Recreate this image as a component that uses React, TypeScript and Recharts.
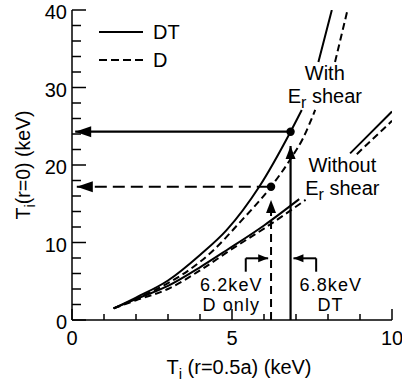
import React from 'react';
import {
  ComposedChart,
  Line,
  XAxis,
  YAxis,
  ReferenceLine,
  ReferenceDot,
  Legend,
} from 'recharts';

const FONT = '"Liberation Sans", Arial, Helvetica, sans-serif';
const INK = '#000';

// ---- curves: Ti(r=0) vs Ti(r=0.5a); null marks a break (label gap) ----
const shearDTx = [1.3, 2.0, 3.0, 4.0, 4.83, 5.85, 6.83, 7.18, 7.45, 7.7, 8.12];
const shearDTy = [1.5, 2.9, 5.1, 8.4, 11.6, 17.2, 24.3, 27.1, null, 33.3, 40.0];

const shearDx = [1.3, 2.0, 3.0, 4.0, 4.42, 5.2, 6.22, 6.85, 7.2, 7.6, 7.9, 8.22, 8.61];
const shearDy = [1.5, 2.75, 4.75, 7.5, 9.0, 12.4, 17.2, 20.9, 23.3, 27.1, null, 33.3, 40.0];

const noShearDTx = [1.3, 2.0, 3.0, 4.0, 4.83, 6.0, 7.1, 7.9, 8.69, 9.2, 10.0];
const noShearDTy = [1.5, 2.7, 4.4, 6.8, 9.0, 12.2, 15.6, null, 21.5, 23.6, 26.9];

const noShearDx = [1.3, 2.0, 3.0, 4.0, 4.94, 6.0, 7.3, 8.1, 8.9, 10.0];
const noShearDy = [1.5, 2.55, 4.0, 6.4, 9.0, 11.8, 15.5, null, 21.4, 25.7];

// ---- operating points: [DT, D] ----
const opEdge = [6.83, 6.22];
const opCore = [24.3, 17.2];
const hArrowTip = [0.1, 0.15];
const vArrowTip = [22.45, 15.5];

// ---- brackets ----
const bracketY = [6.23, 7.96];
const bracketDx = [5.43, 6.13];
const bracketDTx = [7.63, 6.92];

// ---- ticks ----
const xTicks = [0, 1, 2, 3, 4, 5, 6, 7, 8, 9, 10];
const yTicks = [0, 2, 4, 6, 8, 10, 12, 14, 16, 18, 20, 22, 24, 26, 28, 30, 32, 34, 36, 38, 40];
const xLabelTicks = [0, 5, 10];
const yLabelTicks = [0, 10, 20, 30, 40];

const series = (xs: number[], ys: (number | null)[]) => xs.map((x, i) => ({ x, y: ys[i] }));

const LeftTick = (p: any) => {
  const v = p.payload.value;
  const major = yLabelTicks.includes(v);
  return (
    <g>
      <line x1={p.x} x2={p.x + (major ? 14 : 9)} y1={p.y} y2={p.y} stroke={INK} strokeWidth={1.5} />
      {major && (
        <text x={p.x - 5} y={p.y} dy={9} textAnchor="end" fontSize={20} fontFamily={FONT} fill={INK}>
          {v}
        </text>
      )}
    </g>
  );
};
const RightTick = (p: any) => {
  const major = yLabelTicks.includes(p.payload.value);
  return <line x1={p.x} x2={p.x - (major ? 14 : 9)} y1={p.y} y2={p.y} stroke={INK} strokeWidth={1.5} />;
};
const BottomTick = (p: any) => {
  const v = p.payload.value;
  const major = xLabelTicks.includes(v);
  return (
    <g>
      <line x1={p.x} x2={p.x} y1={p.y} y2={p.y - (major ? 11 : 6)} stroke={INK} strokeWidth={1.5} />
      {major && (
        <text x={p.x} y={p.y} dy={25} textAnchor="middle" fontSize={20} fontFamily={FONT} fill={INK}>
          {v}
        </text>
      )}
    </g>
  );
};
const TopTick = (p: any) => {
  const major = xLabelTicks.includes(p.payload.value);
  return <line x1={p.x} x2={p.x} y1={p.y} y2={p.y + (major ? 11 : 6)} stroke={INK} strokeWidth={1.5} />;
};

const YLabel = (p: any) => {
  const vb = p.viewBox;
  const cx = 30;
  const cy = vb.y + vb.height / 2;
  return (
    <text x={cx} y={cy} transform={`rotate(-90 ${cx} ${cy})`} textAnchor="middle" fontSize={19.5} fontFamily={FONT} fill={INK}>
      <tspan>T</tspan>
      <tspan dy={5} fontSize={15}>i</tspan>
      <tspan dy={-5}>(r=0) (keV)</tspan>
    </text>
  );
};
const XLabel = (p: any) => {
  const vb = p.viewBox;
  const cx = vb.x + vb.width / 2 + 7;
  return (
    <text x={cx} y={374} textAnchor="middle" fontSize={20} fontFamily={FONT} fill={INK}>
      <tspan>T</tspan>
      <tspan dy={5} fontSize={15}>i</tspan>
      <tspan dy={-5}> (r=0.5a) (keV)</tspan>
    </text>
  );
};

const arrowShape = (dir: 'left' | 'right' | 'up', len: number, half: number) => (p: any) => {
  const { cx, cy } = p;
  let pts = '';
  if (dir === 'left') pts = `${cx},${cy} ${cx + len},${cy - half} ${cx + len},${cy + half}`;
  if (dir === 'right') pts = `${cx},${cy} ${cx - len},${cy - half} ${cx - len},${cy + half}`;
  if (dir === 'up') pts = `${cx},${cy} ${cx - half},${cy + len} ${cx + half},${cy + len}`;
  return <polygon points={pts} fill={INK} stroke="none" />;
};

const textShape = (content: React.ReactNode, size = 20, spacing = 0) => (p: any) => (
  <text x={p.cx} y={p.cy} textAnchor="middle" fontSize={size} letterSpacing={spacing} fontFamily={FONT} fill={INK}>
    {content}
  </text>
);
const erShear = (
  <>
    <tspan>E</tspan>
    <tspan dy={5} fontSize={16}>r</tspan>
    <tspan dy={-5}> shear</tspan>
  </>
);

const notes = [
  { key: 'with', x: 7.9, y: 30.97, content: 'With' },
  { key: 'with-er', x: 7.9, y: 27.96, content: erShear },
  { key: 'without', x: 8.45, y: 19.1, content: 'Without' },
  { key: 'without-er', x: 8.45, y: 16.1, content: erShear },
];
const bracketNotes = [
  { key: 'd62', x: 4.98, y: 3.74, content: '6.2keV' },
  { key: 'donly', x: 4.98, y: 1.1, content: 'D only' },
  { key: 'dt68', x: 8.09, y: 3.74, content: '6.8keV' },
  { key: 'dt', x: 8.08, y: 1.1, content: 'DT' },
];

const LegendBox = () => (
  <svg width={110} height={60} style={{ display: 'block', overflow: 'visible' }}>
    <line x1={4} x2={48} y1={14} y2={14} stroke={INK} strokeWidth={2} />
    <text x={58} y={21} fontSize={20} fontFamily={FONT} fill={INK}>DT</text>
    <line x1={4} x2={48} y1={42} y2={42} stroke={INK} strokeWidth={2} strokeDasharray="8 4" />
    <text x={58} y={49} fontSize={20} fontFamily={FONT} fill={INK}>D</text>
  </svg>
);

const lineCommon = {
  dataKey: 'y',
  type: 'monotone' as const,
  stroke: INK,
  strokeWidth: 2,
  dot: false,
  activeDot: false,
  isAnimationActive: false,
  connectNulls: false,
  legendType: 'none' as const,
};

export default function App() {
  return (
    <div style={{ position: 'absolute', left: 0, top: 0, width: 402, height: 382, background: '#fff' }}>
      <ComposedChart
        width={402}
        height={382}
        margin={{ top: 10, right: 10, bottom: 0, left: 0 }}
        style={{ fontFamily: FONT }}
      >
        <XAxis
          xAxisId="b"
          dataKey="x"
          type="number"
          domain={[0, 10]}
          ticks={xTicks}
          interval={0}
          height={62}
          tickSize={0}
          tickMargin={0}
          tickLine={false}
          tick={<BottomTick />}
          axisLine={{ stroke: INK, strokeWidth: 1.5 }}
          allowDataOverflow
          label={{ content: <XLabel /> }}
        />
        <XAxis
          xAxisId="t"
          orientation="top"
          dataKey="x"
          type="number"
          domain={[0, 10]}
          ticks={xTicks}
          interval={0}
          height={0}
          tickSize={0}
          tickMargin={0}
          tickLine={false}
          tick={<TopTick />}
          axisLine={{ stroke: INK, strokeWidth: 1.5 }}
          allowDataOverflow
        />
        <YAxis
          yAxisId="l"
          type="number"
          domain={[0, 40]}
          ticks={yTicks}
          interval={0}
          width={72}
          tickSize={0}
          tickMargin={0}
          tickLine={false}
          tick={<LeftTick />}
          axisLine={{ stroke: INK, strokeWidth: 1.5 }}
          allowDataOverflow
          label={{ content: <YLabel /> }}
        />
        <YAxis
          yAxisId="r"
          orientation="right"
          type="number"
          domain={[0, 40]}
          ticks={yTicks}
          interval={0}
          width={0}
          tickSize={0}
          tickMargin={0}
          tickLine={false}
          tick={<RightTick />}
          axisLine={{ stroke: INK, strokeWidth: 1.5 }}
          allowDataOverflow
        />

        <Line {...lineCommon} xAxisId="b" yAxisId="l" data={series(shearDTx, shearDTy)} name="DT (with Er shear)" />
        <Line {...lineCommon} xAxisId="b" yAxisId="l" data={series(shearDx, shearDy)} strokeDasharray="7 4" name="D (with Er shear)" />
        <Line {...lineCommon} xAxisId="b" yAxisId="l" data={series(noShearDTx, noShearDTy)} name="DT (without Er shear)" />
        <Line {...lineCommon} xAxisId="b" yAxisId="l" data={series(noShearDx, noShearDy)} strokeDasharray="7 4" name="D (without Er shear)" />

        {/* horizontal arrows to the core-temperature axis */}
        <ReferenceLine xAxisId="b" yAxisId="l" segment={[{ x: hArrowTip[0], y: opCore[0] }, { x: opEdge[0], y: opCore[0] }]} stroke={INK} strokeWidth={2.2} />
        <ReferenceLine xAxisId="b" yAxisId="l" segment={[{ x: hArrowTip[1], y: opCore[1] }, { x: opEdge[1], y: opCore[1] }]} stroke={INK} strokeWidth={2} strokeDasharray="12 6" />
        <ReferenceDot xAxisId="b" yAxisId="l" x={hArrowTip[0]} y={opCore[0]} r={0} shape={arrowShape('left', 16, 5.5)} />
        <ReferenceDot xAxisId="b" yAxisId="l" x={hArrowTip[1]} y={opCore[1]} r={0} shape={arrowShape('left', 16, 5.5)} />

        {/* vertical arrows from the edge-temperature axis */}
        <ReferenceLine xAxisId="b" yAxisId="l" segment={[{ x: opEdge[0], y: 0 }, { x: opEdge[0], y: vArrowTip[0] }]} stroke={INK} strokeWidth={2.2} />
        <ReferenceLine xAxisId="b" yAxisId="l" segment={[{ x: opEdge[1], y: 0 }, { x: opEdge[1], y: vArrowTip[1] - 1 }]} stroke={INK} strokeWidth={2} strokeDasharray="8 5" />
        <ReferenceDot xAxisId="b" yAxisId="l" x={opEdge[0]} y={vArrowTip[0]} r={0} shape={arrowShape('up', 13, 5)} />
        <ReferenceDot xAxisId="b" yAxisId="l" x={opEdge[1]} y={vArrowTip[1]} r={0} shape={arrowShape('up', 13, 5)} />

        {/* operating points */}
        <ReferenceDot xAxisId="b" yAxisId="l" x={opEdge[0]} y={opCore[0]} r={4.2} fill={INK} stroke="none" />
        <ReferenceDot xAxisId="b" yAxisId="l" x={opEdge[1]} y={opCore[1]} r={4.2} fill={INK} stroke="none" />

        {/* brackets */}
        <ReferenceLine xAxisId="b" yAxisId="l" segment={[{ x: bracketDx[0], y: bracketY[0] }, { x: bracketDx[0], y: bracketY[1] }]} stroke={INK} strokeWidth={2} />
        <ReferenceLine xAxisId="b" yAxisId="l" segment={[{ x: bracketDx[0], y: bracketY[1] }, { x: bracketDx[1], y: bracketY[1] }]} stroke={INK} strokeWidth={2} />
        <ReferenceDot xAxisId="b" yAxisId="l" x={bracketDx[1]} y={bracketY[1]} r={0} shape={arrowShape('right', 10, 4)} />
        <ReferenceLine xAxisId="b" yAxisId="l" segment={[{ x: bracketDTx[0], y: bracketY[0] }, { x: bracketDTx[0], y: bracketY[1] }]} stroke={INK} strokeWidth={2} />
        <ReferenceLine xAxisId="b" yAxisId="l" segment={[{ x: bracketDTx[0], y: bracketY[1] }, { x: bracketDTx[1], y: bracketY[1] }]} stroke={INK} strokeWidth={2} />
        <ReferenceDot xAxisId="b" yAxisId="l" x={bracketDTx[1]} y={bracketY[1]} r={0} shape={arrowShape('left', 10, 4)} />

        {notes.map((n) => (
          <ReferenceDot key={n.key} xAxisId="b" yAxisId="l" x={n.x} y={n.y} r={0} shape={textShape(n.content)} />
        ))}
        {bracketNotes.map((n) => (
          <ReferenceDot key={n.key} xAxisId="b" yAxisId="l" x={n.x} y={n.y} r={0} shape={textShape(n.content, 18, 1.1)} />
        ))}

        <Legend
          content={() => <LegendBox />}
          layout="vertical"
          align="center"
          verticalAlign="middle"
          wrapperStyle={{ left: 95, top: 18, width: 110, height: 60 }}
        />
      </ComposedChart>
    </div>
  );
}
